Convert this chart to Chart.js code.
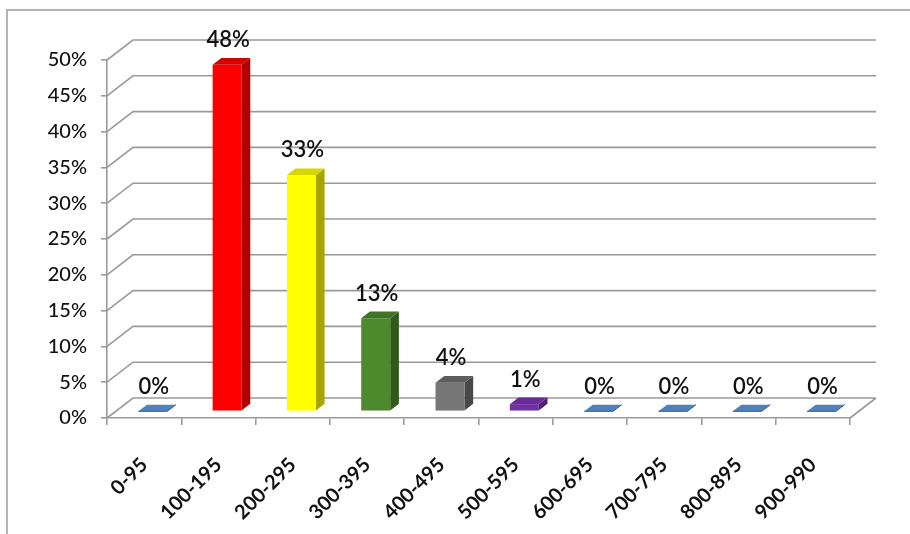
<!DOCTYPE html>
<html><head><meta charset="utf-8">
<script src="https://cdn.jsdelivr.net/npm/chart.js@4.4.1/dist/chart.umd.min.js"></script>
<style>
html,body{margin:0;padding:0;background:#fff;overflow:hidden}
#wrap{position:relative;width:910px;height:534px;overflow:hidden}
#frame{position:absolute;left:6px;top:9px;width:1000px;height:1000px;border-left:2px solid #b4b4b4;border-top:2px solid #b4b4b4}
canvas{position:absolute;left:0;top:0}
</style></head><body>
<div id="wrap"><div id="frame"></div><canvas id="c" width="910" height="534"></canvas></div>
<script>
// ---- data ----
const categories = ["0-95","100-195","200-295","300-395","400-495","500-595","600-695","700-795","800-895","900-990"];
const shares = [0, 48.4, 33, 13, 4, 1, 0, 0, 0, 0];
const yTickValues = [0,5,10,15,20,25,30,35,40,45,50];

// ---- styles ----
const frontColors = ["#4f81bd","#ff0000","#ffff00","#4e8a2d","#767676","#7030a0","#4f81bd","#4f81bd","#4f81bd","#4f81bd"];
const sideColors  = ["#385d8a","#b00000","#a6a600","#2f5a1a","#484848","#4e1f72","#385d8a","#385d8a","#385d8a","#385d8a"];
const topColors   = ["#4a7ebb","#d40000","#d6d600","#3f7424","#5e5e5e","#6a2c9a","#4a7ebb","#4a7ebb","#4a7ebb","#4a7ebb"];
const GRID = "#9a9a9a";
const DX = 26, DY = 20;

function poly(ctx, pts, color){
  ctx.beginPath();
  ctx.moveTo(pts[0][0], pts[0][1]);
  for (let k=1;k<pts.length;k++) ctx.lineTo(pts[k][0], pts[k][1]);
  ctx.closePath();
  ctx.fillStyle = color; ctx.fill();
}

const wall3d = {
  id: 'wall3d',
  beforeDatasetsDraw(chart){
    const {ctx, chartArea:a, scales:{y}} = chart;
    ctx.save();
    ctx.strokeStyle = GRID; ctx.lineWidth = 1.6;
    ctx.beginPath();
    yTickValues.forEach(v=>{
      const py = y.getPixelForValue(v);
      ctx.moveTo(a.left, py); ctx.lineTo(a.left+DX, py-DY); ctx.lineTo(a.right+DX, py-DY);
    });
    const p0 = y.getPixelForValue(0);
    ctx.moveTo(a.right, p0); ctx.lineTo(a.right+DX, p0-DY);
    ctx.stroke();
    ctx.restore();
  },
  afterDatasetsDraw(chart){
    const {ctx} = chart;
    const meta = chart.getDatasetMeta(0);
    const ox = DX/3, oy = DY/3;
    ctx.save();
    meta.data.forEach((bar,i)=>{
      const p = bar.getProps(['x','y','base','width'], true);
      const l = p.x - p.width/2 + ox, r = p.x + p.width/2 + ox;
      const t = p.y - oy, b = p.base - oy;
      if (b - t > 0.5){
        poly(ctx, [[r,b],[r+ox,b-oy],[r+ox,t-oy],[r,t]], sideColors[i]);
        ctx.fillStyle = frontColors[i];
        ctx.fillRect(l, t, r-l, b-t);
        poly(ctx, [[l,t],[l+ox,t-oy],[r+ox,t-oy],[r,t]], topColors[i]);
      } else {
        poly(ctx, [[l,t],[l+ox,t-oy],[r+ox,t-oy],[r,t]], frontColors[i]);
        ctx.strokeStyle = sideColors[i]; ctx.lineWidth = 1;
        ctx.beginPath(); ctx.moveTo(l,t); ctx.lineTo(r,t); ctx.lineTo(r+ox,t-oy); ctx.stroke();
      }
      ctx.fillStyle = "#111";
      ctx.font = "600 22px Lato";
      ctx.textAlign = "center"; ctx.textBaseline = "bottom";
      ctx.fillText(Math.round(shares[i]) + "%", (l+r)/2 + 1, t - oy - 7);
    });
    ctx.restore();
  }
};

new Chart(document.getElementById('c'), {
  type: 'bar',
  data: {
    labels: categories,
    datasets: [{
      data: shares,
      backgroundColor: 'rgba(0,0,0,0)',
      borderWidth: 0,
      categoryPercentage: 1,
      barPercentage: 0.39
    }]
  },
  options: {
    responsive: false,
    devicePixelRatio: 1,
    animation: false,
    layout: { padding: { top: 60, right: 60, left: 0, bottom: 0 } },
    plugins: { legend: { display: false }, tooltip: { enabled: false } },
    scales: {
      y: {
        min: 0, max: 50,
        afterFit(s){ s.width = 107; },
        ticks: { stepSize: 5, callback: v => v + '%', color: '#111', font: { family: 'Lato', size: 20, weight: 500 }, padding: 14 },
        grid: { drawOnChartArea: false, drawTicks: true, tickLength: 6, color: GRID, lineWidth: 1.6 },
        border: { display: true, color: GRID, width: 1.6 }
      },
      x: {
        afterFit(s){ s.height = 116; },
        ticks: { autoSkip: false, maxRotation: 45, minRotation: 45, color: '#111', font: { family: 'Lato', size: 20, weight: 'bold' }, padding: 28 },
        grid: { offset: true, drawOnChartArea: false, drawTicks: true, tickLength: 7, color: GRID, lineWidth: 1.6 },
        border: { display: true, color: GRID, width: 1.6 }
      }
    }
  },
  plugins: [wall3d]
});
</script>
</body></html>
